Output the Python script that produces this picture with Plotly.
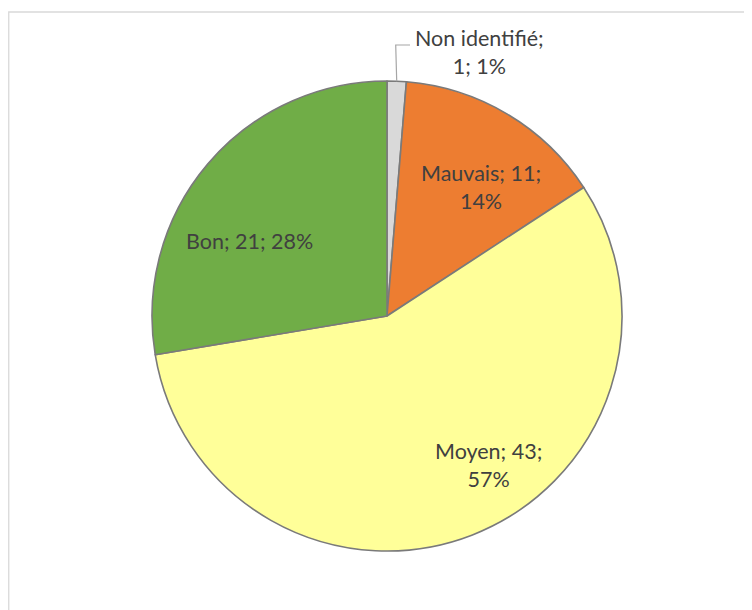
import math
import plotly.graph_objects as go

# Data
categories = ["Non identifié", "Mauvais", "Moyen", "Bon"]
values = [1, 11, 43, 21]
colors = ["#d9d9d9", "#ed7d31", "#ffff99", "#70ad47"]

W, H = 752, 610
OFF = 8  # page body margin offset
CX, CY, R = 387, 316, 235  # pie centre / radius in screen pixels (layout)

def px(x):
    return (x - OFF) / W

def py(y):
    return 1 - (y - OFF) / H

total = sum(values)
pcts = [round(v / total * 100) for v in values]

fig = go.Figure(go.Pie(
    labels=categories,
    values=values,
    sort=False,
    direction="clockwise",
    rotation=0,
    marker=dict(colors=colors, line=dict(color="#7a7a7a", width=1.6)),
    textinfo="none",
    hoverinfo="label+value+percent",
    showlegend=False,
    domain=dict(x=[px(CX - R), px(CX + R)], y=[py(CY + R), py(CY - R)]),
))

font = dict(family="Lato, Calibri, Carlito, sans-serif", size=21.5, color="#404040")

# label positions (layout)
label_pos = {
    "Non identifié": (479, 52),
    "Mauvais": (481, 187),
    "Moyen": (488, 465),
    "Bon": (250, 241),
}
label_text = {
    "Non identifié": f"{categories[0]};<br>{values[0]}; {pcts[0]}%",
    "Mauvais": f"{categories[1]}; {values[1]};<br>{pcts[1]}%",
    "Moyen": f"{categories[2]}; {values[2]};<br>{pcts[2]}%",
    "Bon": f"{categories[3]}; {values[3]}; {pcts[3]}%",
}
for c in categories:
    x, y = label_pos[c]
    fig.add_annotation(x=px(x), y=py(y), xref="paper", yref="paper",
                       text=label_text[c], showarrow=False, font=font,
                       xanchor="center", yanchor="middle", align="center")

# leader line for the small slice
mid = values[0] / 2 / total * 2 * math.pi
ex = CX + R * math.sin(mid)
ey = CY - R * math.cos(mid)
fig.add_shape(type="path", xref="paper", yref="paper",
              path=f"M {px(ex)} {py(ey)} L {px(ex - 1)} {py(45)} L {px(410)} {py(45)}",
              line=dict(color="#a6a6a6", width=1.2))

# chart border
fig.add_shape(type="rect", xref="paper", yref="paper",
              x0=px(8) + 0.001, y0=-0.05, x1=1.05, y1=py(12),
              line=dict(color="#d9d9d9", width=1.3), fillcolor="rgba(0,0,0,0)")

fig.update_layout(width=W, height=H, margin=dict(l=0, r=0, t=0, b=0),
                  paper_bgcolor="white", plot_bgcolor="white")

fig.write_html("out.html")
